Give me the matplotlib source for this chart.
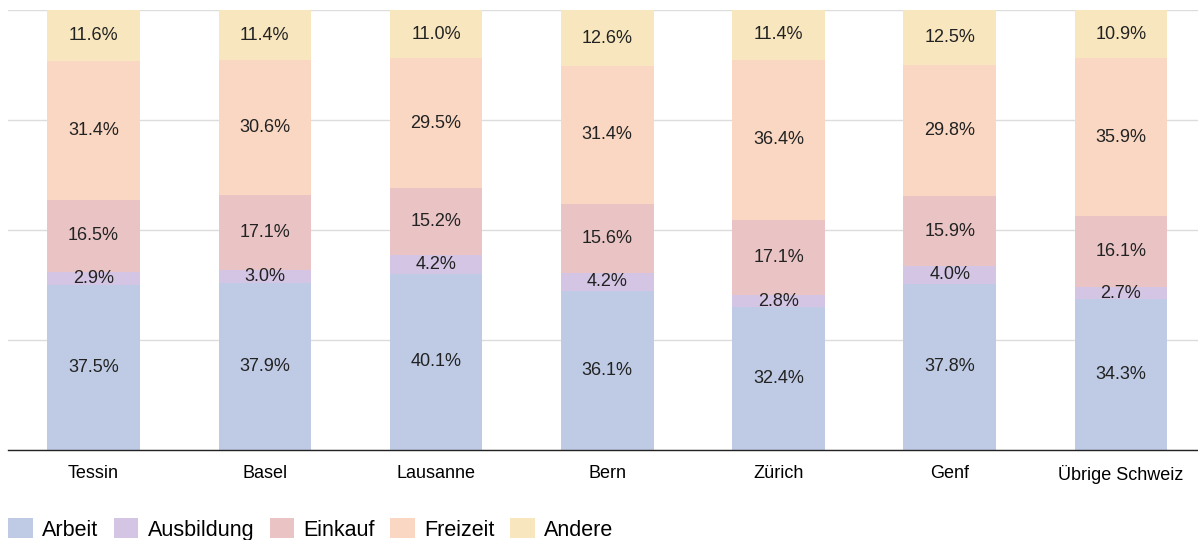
import numpy as np
import matplotlib.pyplot as plt
from matplotlib.patches import Patch

# Anteile der Wegzwecke pro Region (in %)
regionen = ['Tessin', 'Basel', 'Lausanne', 'Bern', 'Zürich', 'Genf', 'Übrige Schweiz']
arbeit = [37.5, 37.9, 40.1, 36.1, 32.4, 37.8, 34.3]
ausbildung = [2.9, 3.0, 4.2, 4.2, 2.8, 4.0, 2.7]
einkauf = [16.5, 17.1, 15.2, 15.6, 17.1, 15.9, 16.1]
freizeit = [31.4, 30.6, 29.5, 31.4, 36.4, 29.8, 35.9]
andere = [11.6, 11.4, 11.0, 12.6, 11.4, 12.5, 10.9]

serien = ['Arbeit', 'Ausbildung', 'Einkauf', 'Freizeit', 'Andere']
farben = ['#bfcbe5', '#d3c5e3', '#eac4c5', '#f9d7c2', '#f8e7be']

plt.rcParams['font.family'] = ['Liberation Sans', 'DejaVu Sans']

fig = plt.figure(figsize=(11.98, 5.4), dpi=100)
ax = fig.add_axes([8 / 1198, 1 - 450 / 540, 1 - 8 / 1198, 440 / 540])

x = np.arange(len(regionen))
unten = np.zeros(len(regionen))
for name, werte, farbe in zip(serien, [arbeit, ausbildung, einkauf, freizeit, andere], farben):
    werte = np.array(werte)
    ax.bar(x, werte, bottom=unten, width=0.54, color=farbe, zorder=2)
    for xi, b, v in zip(x, unten, werte):
        ax.text(xi, b + v / 2, f'{v:.1f}%', ha='center', va='center',
                fontsize=13, color='#222222', zorder=3)
    unten += werte

ax.set_xlim(-0.5, 6.45)
ax.set_ylim(0, 100)
ax.set_yticks([0, 25, 50, 75, 100])
ax.set_yticklabels([])
ax.grid(axis='y', color='#dcdcdc', linewidth=1, zorder=0)
ax.tick_params(axis='both', length=0)
ax.set_xticks(x)
ax.set_xticklabels(regionen, fontsize=13)
ax.tick_params(axis='x', pad=11)
for s in ['top', 'right', 'left']:
    ax.spines[s].set_visible(False)
ax.spines['bottom'].set_color('#222222')
ax.spines['bottom'].set_linewidth(1)

handles = [Patch(facecolor=f, edgecolor='none', label=n) for n, f in zip(serien, farben)]
fig.legend(handles=handles, loc='lower left', bbox_to_anchor=(-0.004, -0.025), ncol=5,
           frameon=False, fontsize=15.5, handlelength=1.15, handleheight=1.05,
           handletextpad=0.42, columnspacing=0.72, borderaxespad=0.2)

fig.savefig('out.png', dpi=100)
